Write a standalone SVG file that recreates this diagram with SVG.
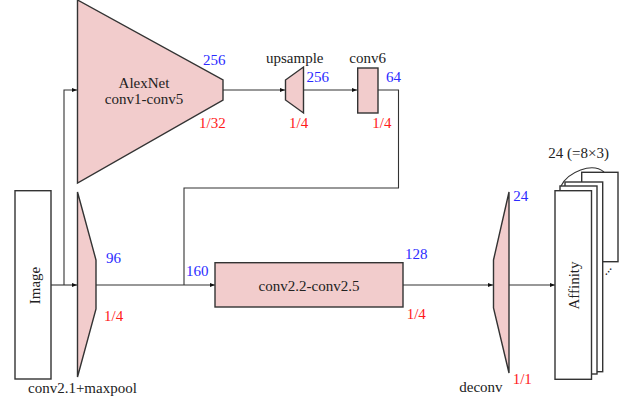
<svg xmlns="http://www.w3.org/2000/svg" width="627" height="402" viewBox="0 0 627 402">
<defs>
<style>
text{font-family:"Liberation Serif","Times New Roman",serif;font-size:15px;fill:#222}
.b{fill:#2b2bff}
.r{fill:#ff1a1a}
.blk{fill:#f2cccc;stroke:#333;stroke-width:1.4}
.box{fill:#fff;stroke:#333;stroke-width:1.4}
.ln{fill:none;stroke:#333;stroke-width:1.1}
</style>
<marker id="ah" viewBox="0 0 10 10" refX="10" refY="5" markerWidth="5" markerHeight="5" markerUnits="userSpaceOnUse" orient="auto">
<path d="M0,1 L10,5 L0,9 z" fill="#111"/>
</marker>
</defs>
<g id="connectors">
<path class="ln" d="M51,285 H77" marker-end="url(#ah)"/>
<path class="ln" d="M64,285 V90 H77" marker-end="url(#ah)"/>
<path class="ln" d="M223,90 H285" marker-end="url(#ah)"/>
<path class="ln" d="M304,90 H357" marker-end="url(#ah)"/>
<path class="ln" d="M378,90 H398.5 V188 H184 V285"/>
<path class="ln" d="M96,285 H215" marker-end="url(#ah)"/>
<path class="ln" d="M403,285 H493" marker-end="url(#ah)"/>
<path class="ln" d="M509,285 H555" marker-end="url(#ah)"/>
</g>
<g id="image">
<rect class="box" x="15" y="190.7" width="36" height="188.3"/>
<text transform="translate(39.5,285.5) rotate(-90)" text-anchor="middle">Image</text>
</g>
<g id="alexnet">
<polygon class="blk" points="77.5,0 223,80 223,100 77.5,183"/>
<text x="144" y="88" text-anchor="middle">AlexNet</text>
<text x="144" y="104" text-anchor="middle">conv1-conv5</text>
<text class="b" x="203" y="65">256</text>
<text class="r" x="199" y="127.7">1/32</text>
</g>
<g id="upsample">
<polygon class="blk" points="285.5,80 303.5,67 303.5,113 285.5,100"/>
<text x="266" y="63">upsample</text>
<text class="b" x="306.5" y="81.7">256</text>
<text class="r" x="289" y="127.7">1/4</text>
</g>
<g id="conv6">
<rect class="blk" x="357.7" y="68" width="20.3" height="45"/>
<text x="349.3" y="63">conv6</text>
<text class="b" x="386" y="81.7">64</text>
<text class="r" x="372.3" y="127.7">1/4</text>
</g>
<g id="conv21">
<polygon class="blk" points="77.5,192 96,260 96,309 77.5,377"/>
<text x="28" y="392.5">conv2.1+maxpool</text>
<text class="b" x="106" y="263.3">96</text>
<text class="r" x="104" y="320.7">1/4</text>
</g>
<g id="conv22">
<rect class="blk" x="215" y="262.7" width="188" height="44.3"/>
<text x="309" y="291" text-anchor="middle">conv2.2-conv2.5</text>
<text class="b" x="186" y="275.7">160</text>
<text class="b" x="405" y="259.3">128</text>
<text class="r" x="406.7" y="319.3">1/4</text>
</g>
<g id="deconv">
<polygon class="blk" points="493.5,260 509,192 509,373 493.5,308"/>
<text x="459.3" y="392.3">deconv</text>
<text class="b" x="513.3" y="200.7">24</text>
<text class="r" x="512.7" y="384">1/1</text>
</g>
<g id="affinity">
<rect class="box" x="581.7" y="172.3" width="36.3" height="89.4"/>
<rect class="box" x="565" y="182" width="37.7" height="189.7"/>
<rect class="box" x="560" y="186" width="37" height="188"/>
<rect class="box" x="555" y="190.7" width="36.5" height="188.6"/>
<path class="ln" d="M561,186 C568,172 592,162 604,172"/>
<text x="548.3" y="157.5">24 (=8×3)</text>
<text transform="translate(578.5,285.5) rotate(-90)" text-anchor="middle">Affinity</text>
<text transform="translate(609,272) rotate(-50)" text-anchor="middle" style="font-size:13px">...</text>
</g>
</svg>
